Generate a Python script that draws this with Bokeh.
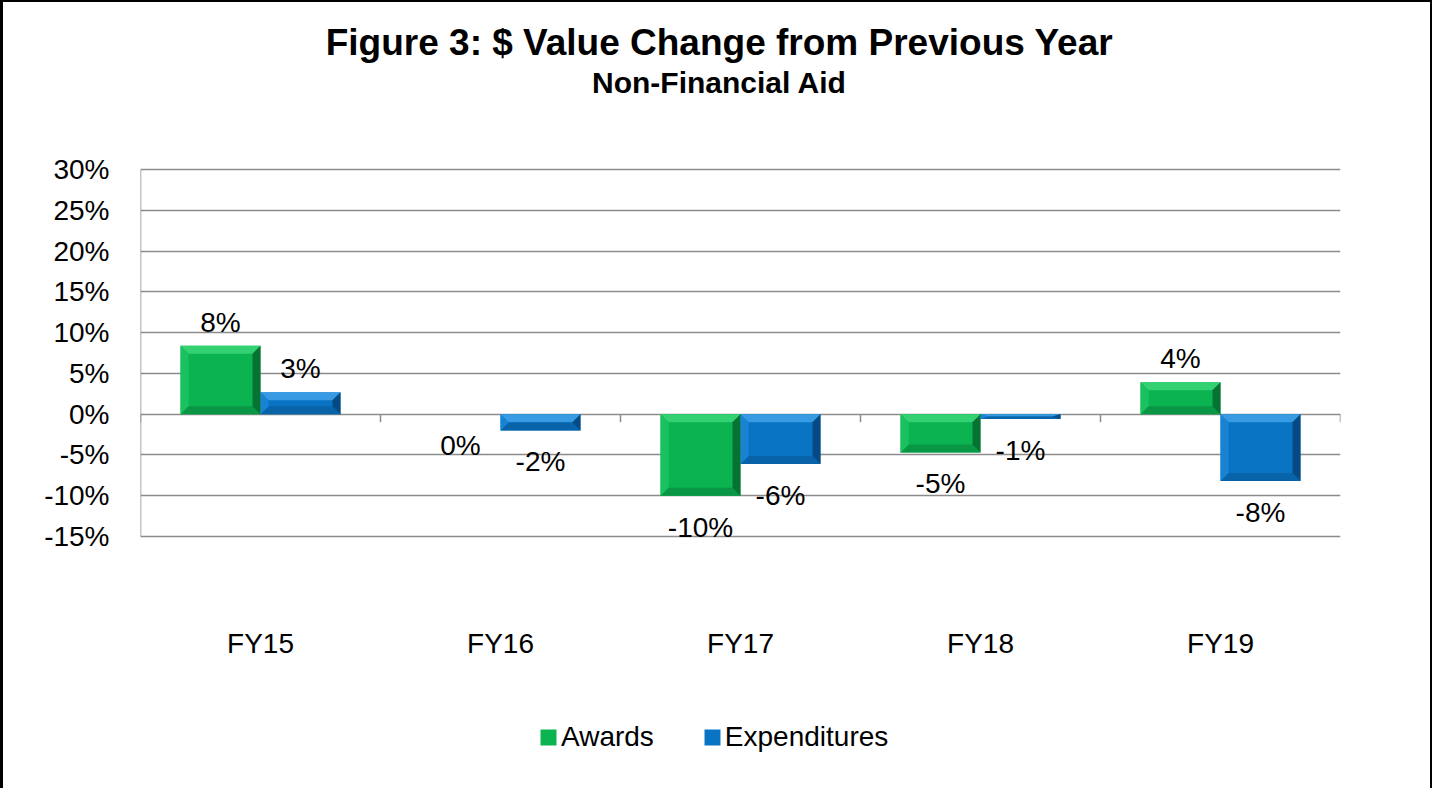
from bokeh.plotting import figure
from bokeh.models import (ColumnDataSource, FactorRange, Range1d, FixedTicker,
                          PrintfTickFormatter, LabelSet, Label, Legend, LegendItem)
from bokeh.core.properties import value
from bokeh.transform import dodge
from bokeh.embed import file_html
from bokeh.resources import INLINE

# ---------------- data ----------------
categories = ["FY15", "FY16", "FY17", "FY18", "FY19"]
awards = [8.4, 0.0, -10.0, -4.7, 3.9]
expenditures = [2.7, -2.0, -6.1, -0.6, -8.2]
series_names = ["Awards", "Expenditures"]
y_ticks = [-15, -10, -5, 0, 5, 10, 15, 20, 25, 30]
title_text = "Figure 3: $ Value Change from Previous Year"
subtitle_text = "Non-Financial Aid"

FONT = "Liberation Sans"
GRID = "#8c8c8c"
# main, top bevel, left bevel, right bevel, bottom bevel
GREEN = ["#0bb351", "#38d475", "#1cc262", "#066b30", "#099244"]
BLUE = ["#0a74c4", "#3d9fe6", "#1a85d4", "#06467c", "#0862a6"]

PX = 367 / 45.0          # vertical pixels per percentage point
BAR_W = 1 / 3            # in category units
PX_PER_CAT = 240.0
ABOVE_PX = 167           # space between canvas top and the 30% gridline
BELOW_PX = 254           # space between the -15% gridline and canvas bottom

y_top = max(y_ticks) + ABOVE_PX / PX
y_bot = min(y_ticks) - BELOW_PX / PX

p = figure(x_range=FactorRange(factors=categories, range_padding=0),
           y_range=Range1d(y_bot, y_top),
           width=1432, height=788,
           min_border_left=137, min_border_right=95,
           min_border_top=0, min_border_bottom=0,
           title=None, output_backend="svg", toolbar_location=None)
p.styles = {"border-top": "2px solid #000", "border-left": "3px solid #000",
            "border-right": "2px solid #000"}
p.outline_line_color = None
p.background_fill_color = "white"
p.border_fill_color = "white"

src = ColumnDataSource(dict(cat=categories, awards=awards, exp=expenditures))
r1 = p.vbar(x=dodge("cat", -BAR_W / 2, range=p.x_range), top="awards", bottom=0,
            width=BAR_W, source=src, fill_color=GREEN[0], line_color=None)
r2 = p.vbar(x=dodge("cat", BAR_W / 2, range=p.x_range), top="exp", bottom=0,
            width=BAR_W, source=src, fill_color=BLUE[0], line_color=None)

# bevel shading on each bar (derived from the bar values)
bev = {k: dict(xs=[], ys=[], c=[]) for k in ("t", "l", "r", "b")}
for i in range(len(categories)):
    for off, v, pal in ((-BAR_W / 2, awards[i], GREEN), (BAR_W / 2, expenditures[i], BLUE)):
        if v == 0:
            continue
        x0 = i + 0.5 + off - BAR_W / 2
        x1 = x0 + BAR_W
        yt, yb = max(v, 0), min(v, 0)
        dx = 8 / PX_PER_CAT
        dy = min(8 / PX, (yt - yb) / 2)
        bev["t"]["xs"].append([x0, x1, x1 - dx, x0 + dx]); bev["t"]["ys"].append([yt, yt, yt - dy, yt - dy]); bev["t"]["c"].append(pal[1])
        bev["b"]["xs"].append([x0, x1, x1 - dx, x0 + dx]); bev["b"]["ys"].append([yb, yb, yb + dy, yb + dy]); bev["b"]["c"].append(pal[4])
        bev["l"]["xs"].append([x0, x0 + dx, x0 + dx, x0]); bev["l"]["ys"].append([yt, yt - dy, yb + dy, yb]); bev["l"]["c"].append(pal[2])
        bev["r"]["xs"].append([x1, x1 - dx, x1 - dx, x1]); bev["r"]["ys"].append([yt, yt - dy, yb + dy, yb]); bev["r"]["c"].append(pal[3])
for k in ("t", "b", "l", "r"):
    p.patches(xs="xs", ys="ys", fill_color="c", line_color=None, fill_alpha=0.9,
              source=ColumnDataSource(bev[k]))

# y axis line and category boundary tick marks on the zero line
n = len(categories)
p.segment(x0=[0], y0=[min(y_ticks)], x1=[0], y1=[max(y_ticks)], line_color=GRID, line_width=1.5)
bounds = list(range(n + 1))
p.segment(x0=bounds, y0=[0] * (n + 1), x1=bounds, y1=[-8 / PX] * (n + 1),
          line_color=GRID, line_width=1.5)

# data labels
pos = dict(x=[], y=[], t=[])
neg = dict(x=[], y=[], t=[])
for i in range(n):
    for off, v in ((-BAR_W / 2, awards[i]), (BAR_W / 2, expenditures[i])):
        d = pos if v > 0 else neg
        d["x"].append(i + 0.5 + off)
        d["y"].append(v)
        d["t"].append(f"{round(v):.0f}%")
for d, base, yoff in ((pos, "bottom", 8), (neg, "top", -16)):
    p.add_layout(LabelSet(x="x", y="y", text="t", source=ColumnDataSource(d),
                          text_align="center", text_baseline=base, y_offset=yoff,
                          text_font=value(FONT), text_font_size="28px",
                          text_color="black"))

# axes
p.yaxis.ticker = FixedTicker(ticks=y_ticks)
p.yaxis.formatter = PrintfTickFormatter(format="%d%%")
p.yaxis.major_tick_line_color = None
p.yaxis.minor_tick_line_color = None
p.yaxis.axis_line_color = None
p.yaxis.major_label_standoff = 25
p.yaxis.major_label_text_font = FONT
p.yaxis.major_label_text_font_size = "28px"
p.yaxis.major_label_text_color = "black"

p.xaxis.fixed_location = 0
p.xaxis.axis_line_color = None
p.xaxis.major_tick_line_color = None
p.xaxis.minor_tick_line_color = None
p.xaxis.major_label_standoff = 208
p.xaxis.major_label_text_font = FONT
p.xaxis.major_label_text_font_size = "28px"
p.xaxis.major_label_text_color = "black"

p.xgrid.grid_line_color = None
p.ygrid.ticker = FixedTicker(ticks=y_ticks)
p.ygrid.grid_line_color = GRID
p.ygrid.grid_line_width = 1.5

# titles, centred on the whole chart box
cx = (727 - 148) / PX_PER_CAT
p.add_layout(Label(x=cx, y=max(y_ticks) + 127 / PX, text=title_text, text_align="center",
                   text_baseline="middle", text_font=FONT, text_font_size="37px",
                   text_font_style="bold", text_color="black"))
p.add_layout(Label(x=cx, y=max(y_ticks) + 87 / PX, text=subtitle_text, text_align="center",
                   text_baseline="middle", text_font=FONT, text_font_size="30px",
                   text_font_style="bold", text_color="black"))

legend = Legend(items=[LegendItem(label=series_names[0], renderers=[r1]),
                       LegendItem(label=series_names[1], renderers=[r2])],
                orientation="horizontal", location=(398, 37), margin=0,
                glyph_width=20, glyph_height=20, label_standoff=3, spacing=48,
                padding=0, border_line_color=None,
                background_fill_alpha=0, label_text_font=FONT,
                label_text_font_size="28px", label_text_color="black")
p.add_layout(legend, "center")

open("out.html", "w").write(file_html(p, INLINE))
